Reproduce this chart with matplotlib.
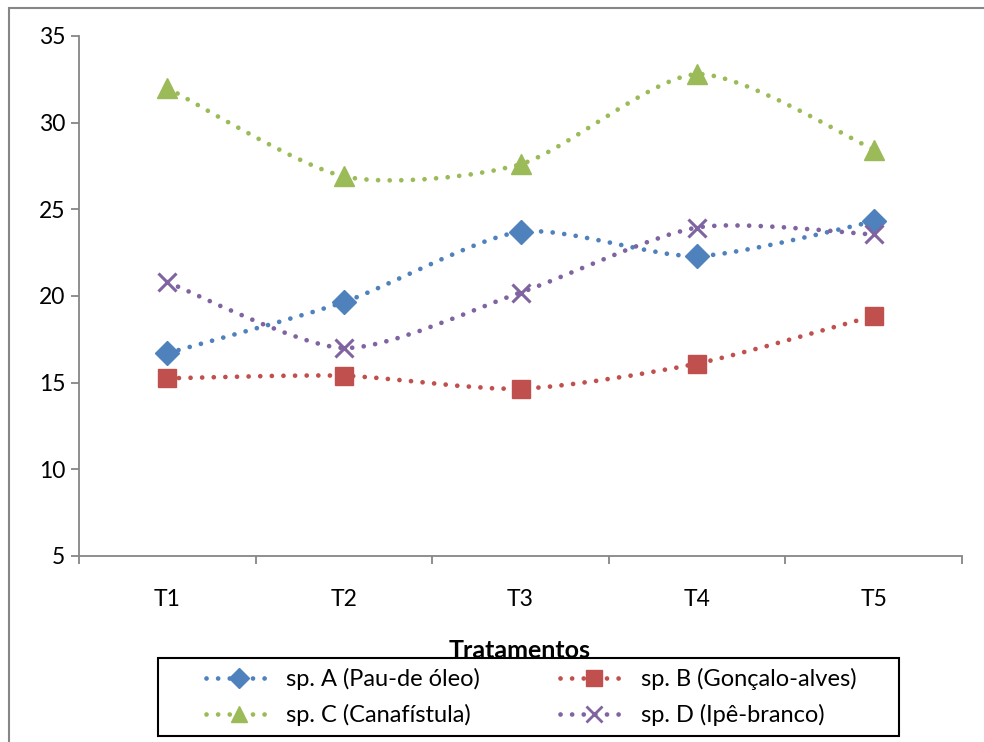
import matplotlib
matplotlib.use("Agg")
import matplotlib.pyplot as plt
from matplotlib.path import Path
from matplotlib.patches import PathPatch, Rectangle
from matplotlib.lines import Line2D

# data
treatments = ["T1", "T2", "T3", "T4", "T5"]
sp_a = [16.7, 19.65, 23.7, 22.3, 24.3]
sp_b = [15.25, 15.4, 14.65, 16.1, 18.85]
sp_c = [32.0, 26.9, 27.6, 32.8, 28.45]
sp_d = [20.8, 17.0, 20.2, 23.95, 23.55]
names = ["sp. A (Pau-de óleo)", "sp. B (Gonçalo-alves)",
         "sp. C (Canafístula)", "sp. D (Ipê-branco)"]

colors = ["#4F81BD", "#C0504D", "#9BBB59", "#8064A2"]
markers = ["D", "s", "^", "x"]
msizes = [12, 13, 14, 13]

plt.rcParams["font.family"] = ["Lato", "DejaVu Sans"]
FS_TICK = 16.5
FS_LEG = 17
DOTS = (0, (0.01, 2.45))
TENSION = 1 / 8.0


def smooth_path(xs, ys):
    """Excel-like smoothed line: cubic Bezier through every point."""
    pts = list(zip(xs, ys))
    n = len(pts)
    verts = [pts[0]]
    codes = [Path.MOVETO]
    for i in range(n - 1):
        p0 = pts[max(i - 1, 0)]
        p1 = pts[i]
        p2 = pts[i + 1]
        p3 = pts[min(i + 2, n - 1)]
        c1 = (p1[0] + (p2[0] - p0[0]) * TENSION, p1[1] + (p2[1] - p0[1]) * TENSION)
        c2 = (p2[0] - (p3[0] - p1[0]) * TENSION, p2[1] - (p3[1] - p1[1]) * TENSION)
        verts += [c1, c2, p2]
        codes += [Path.CURVE4] * 3
    return Path(verts, codes)


fig = plt.figure(figsize=(9.84, 7.42), dpi=100)
ax = fig.add_axes([79 / 984, 1 - 556 / 742, (962 - 79) / 984, (556 - 36) / 742])

x = list(range(1, len(treatments) + 1))
series = [sp_a, sp_b, sp_c, sp_d]
handles = []
for vals, c, m, ms in zip(series, colors, markers, msizes):
    patch = PathPatch(smooth_path(x, vals), fill=False, edgecolor=c, lw=3.4,
                      linestyle=DOTS, capstyle="round", zorder=2)
    ax.add_patch(patch)
    if m == "x":
        ax.plot(x, vals, linestyle="none", marker=m, ms=ms, mew=2.2,
                color=c, zorder=3)
    else:
        ax.plot(x, vals, linestyle="none", marker=m, ms=ms, mfc=c,
                mec=c, color=c, zorder=3)
    handles.append(Line2D([], [], color=c, lw=3.4, linestyle=DOTS,
                          dash_capstyle="round", marker=m,
                          ms=ms * 0.85, mew=2 if m == "x" else 1,
                          mfc=c, mec=c))

ax.set_xlim(0.5, 5.5)
ax.set_ylim(5, 35)
ax.set_yticks(range(5, 36, 5))
ax.set_xticks([i + 0.5 for i in range(0, 6)])
ax.set_xticklabels([])
ax.set_xticks(x, minor=True)
ax.set_xticklabels(treatments, minor=True)

for side in ["top", "right"]:
    ax.spines[side].set_visible(False)
for side in ["left", "bottom"]:
    ax.spines[side].set_color("#868686")
    ax.spines[side].set_linewidth(1.3)

ax.tick_params(axis="both", which="major", direction="out", length=6,
               width=1.3, color="#868686", labelsize=FS_TICK, pad=4)
ax.tick_params(axis="x", which="minor", length=0, labelsize=FS_TICK, pad=24)

fig.text(520 / 984, 1 - 650 / 742, "Tratamentos", fontsize=18,
         fontweight="bold", ha="center", va="center")

# legend box under the chart, entries read row by row (A B / C D)
fig.patches.append(Rectangle((158 / 984, 1 - 736 / 742), (899 - 158) / 984,
                             (736 - 658) / 742, transform=fig.transFigure,
                             fill=False, edgecolor="black", lw=1.5))
order = [0, 2, 1, 3]
fig.legend([handles[i] for i in order], [names[i] for i in order],
           loc="center", ncol=2,
           bbox_to_anchor=(531 / 984, 1 - 697 / 742), frameon=False,
           fontsize=FS_LEG, handlelength=2.85, handletextpad=0.55,
           columnspacing=3.4, labelspacing=0.58, numpoints=1)

# outer chart border (gray, partly cropped)
fig.patches.append(Rectangle((9 / 984, -0.1), 1.2, 1 - 8 / 742 + 0.1,
                             transform=fig.transFigure, fill=False,
                             edgecolor="#868686", lw=1.5))

fig.savefig("out.png", dpi=100)
